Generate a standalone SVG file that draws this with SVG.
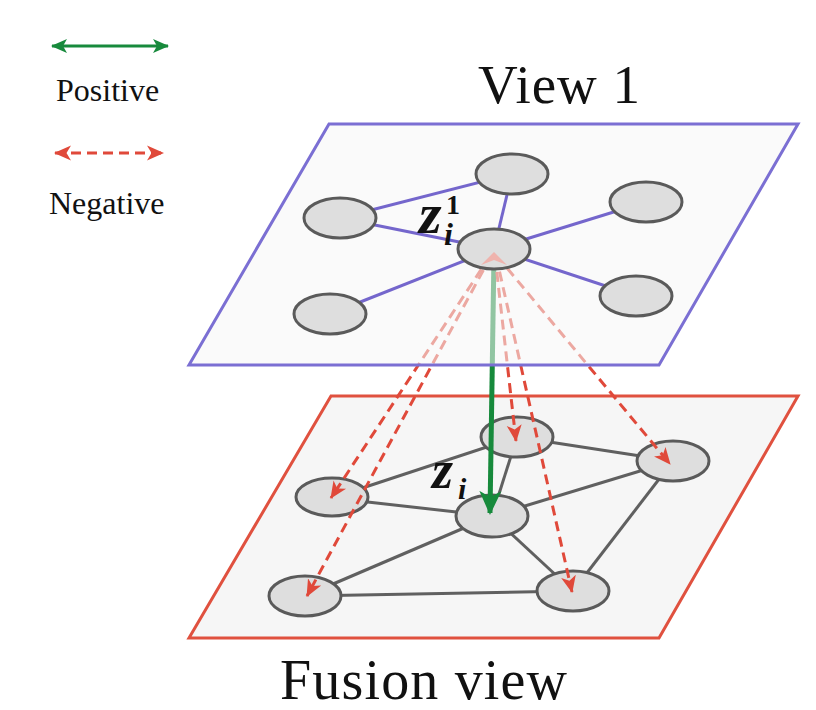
<svg xmlns="http://www.w3.org/2000/svg" width="816" height="710" viewBox="0 0 816 710">
<style>
  .txt { font-family: "Liberation Serif", "Times New Roman", serif; fill: #111; }
  .math { font-family: "Liberation Serif", "Times New Roman", serif; font-weight: bold; font-style: italic; fill: #111; }
  .node { fill: #dedede; stroke: #5a5a5a; stroke-width: 3; }
  .edge-p { stroke: #7466cc; stroke-width: 3; fill: none; }
  .edge-g { stroke: #606060; stroke-width: 3; fill: none; }
  .pos { stroke: #178a3c; stroke-width: 5; fill: none; }
  .neg { stroke: #e0493a; stroke-width: 3; stroke-dasharray: 10 6; fill: none; }
</style>
<defs>
  <marker id="gHead" markerUnits="userSpaceOnUse" viewBox="0 0 24 24" markerWidth="24" markerHeight="24" refX="22" refY="12" orient="auto-start-reverse">
    <path d="M0,1 L24,12 L0,23 L6,12 z" fill="#178a3c"/>
  </marker>
  <marker id="gHeadS" markerUnits="userSpaceOnUse" viewBox="0 0 16 16" markerWidth="16" markerHeight="16" refX="15" refY="8" orient="auto-start-reverse">
    <path d="M0,1 L16,8 L0,15 L4,8 z" fill="#178a3c"/>
  </marker>
  <marker id="rHead" markerUnits="userSpaceOnUse" viewBox="0 0 17 17" markerWidth="17" markerHeight="17" refX="16" refY="8.5" orient="auto-start-reverse">
    <path d="M0,1 L17,8.5 L0,16 L4.5,8.5 z" fill="#e0493a"/>
  </marker>
</defs>

<!-- Legend -->
<g id="legend">
  <line x1="52" y1="46" x2="168" y2="46" stroke="#178a3c" stroke-width="3" marker-start="url(#gHeadS)" marker-end="url(#gHeadS)"/>
  <text class="txt" x="56" y="101" font-size="32">Positive</text>
  <line x1="55" y1="153" x2="163" y2="153" stroke="#e0493a" stroke-width="3" stroke-dasharray="10 6" marker-start="url(#rHead)" marker-end="url(#rHead)"/>
  <text class="txt" x="49" y="214" font-size="32">Negative</text>
</g>

<!-- Titles -->
<text class="txt" x="478" y="103" font-size="55" textLength="162">View 1</text>
<text class="txt" x="280" y="699" font-size="56" textLength="287">Fusion view</text>

<!-- Fusion view plane -->
<g id="fusion-plane">
  <polygon points="331,396 798,396 659,638 189,638" fill="#f6f6f6" stroke="#e0513f" stroke-width="3"/>
</g>
<g id="fusion-edges">
  <line class="edge-g" x1="332" y1="498" x2="517" y2="437"/>
  <line class="edge-g" x1="517" y1="437" x2="673" y2="461"/>
  <line class="edge-g" x1="517" y1="437" x2="492" y2="516"/>
  <line class="edge-g" x1="332" y1="498" x2="492" y2="516"/>
  <line class="edge-g" x1="492" y1="516" x2="673" y2="461"/>
  <line class="edge-g" x1="492" y1="516" x2="305" y2="596"/>
  <line class="edge-g" x1="492" y1="516" x2="573" y2="591"/>
  <line class="edge-g" x1="305" y1="596" x2="573" y2="591"/>
  <line class="edge-g" x1="673" y1="461" x2="573" y2="591"/>
</g>
<g id="f-top"><ellipse class="node" cx="517" cy="437" rx="36" ry="20"/></g>
<g id="f-right"><ellipse class="node" cx="673" cy="461" rx="36" ry="20"/></g>
<g id="f-left"><ellipse class="node" cx="332" cy="497" rx="36" ry="19"/></g>
<g id="f-center"><ellipse class="node" cx="492" cy="516" rx="36" ry="21"/></g>
<g id="f-bottomleft"><ellipse class="node" cx="305" cy="596" rx="36" ry="20"/></g>
<g id="f-bottomright"><ellipse class="node" cx="573" cy="591" rx="36" ry="20"/></g>

<!-- Cross-view arrows -->
<g id="arrows">
  <line class="pos" x1="494" y1="254" x2="490" y2="513" marker-end="url(#gHead)"/>
  <line class="neg" x1="490" y1="256" x2="331" y2="498" marker-end="url(#rHead)"/>
  <line class="neg" x1="491" y1="256" x2="307" y2="596" marker-end="url(#rHead)"/>
  <line class="neg" x1="495" y1="256" x2="516" y2="441" marker-end="url(#rHead)"/>
  <line class="neg" x1="496" y1="256" x2="572" y2="592" marker-end="url(#rHead)"/>
  <line class="neg" x1="497" y1="256" x2="670" y2="464" marker-end="url(#rHead)"/>
</g>

<!-- View 1 plane (semi-transparent, over arrows) -->
<g id="view1-plane">
  <polygon points="329,124 798,124 659,365 189,365" fill="#f6f6f6" fill-opacity="0.55" stroke="#7b6fd3" stroke-width="3"/>
</g>
<g id="view1-edges">
  <line class="edge-p" x1="340" y1="218" x2="512" y2="174"/>
  <line class="edge-p" x1="340" y1="218" x2="494" y2="249"/>
  <line class="edge-p" x1="512" y1="174" x2="494" y2="249"/>
  <line class="edge-p" x1="494" y1="249" x2="646" y2="202"/>
  <line class="edge-p" x1="494" y1="249" x2="330" y2="314"/>
  <line class="edge-p" x1="494" y1="249" x2="636" y2="296"/>
</g>
<g id="v-top"><ellipse class="node" cx="512" cy="174" rx="36" ry="20"/></g>
<g id="v-left"><ellipse class="node" cx="340" cy="218" rx="36" ry="20"/></g>
<g id="v-righttop"><ellipse class="node" cx="646" cy="202" rx="36" ry="20"/></g>
<g id="v-center">
  <ellipse class="node" cx="494" cy="249" rx="36" ry="20"/>
  <path d="M494,252 L507,265 L494,260 L481,265 z" fill="#f2a8a0" fill-opacity="0.8"/>
</g>
<g id="v-bottomleft"><ellipse class="node" cx="330" cy="314" rx="36" ry="20"/></g>
<g id="v-bottomright"><ellipse class="node" cx="636" cy="296" rx="36" ry="20"/></g>

<!-- Labels -->
<g id="label-zi1">
  <text class="math" x="419" y="233" font-size="58">z</text>
  <text class="txt" x="446" y="214" font-size="28" font-weight="bold">1</text>
  <text class="math" x="444" y="245" font-size="32">i</text>
</g>
<g id="label-zi">
  <text class="math" x="432" y="488" font-size="54">z</text>
  <text class="math" x="458" y="499" font-size="30">i</text>
</g>
</svg>
